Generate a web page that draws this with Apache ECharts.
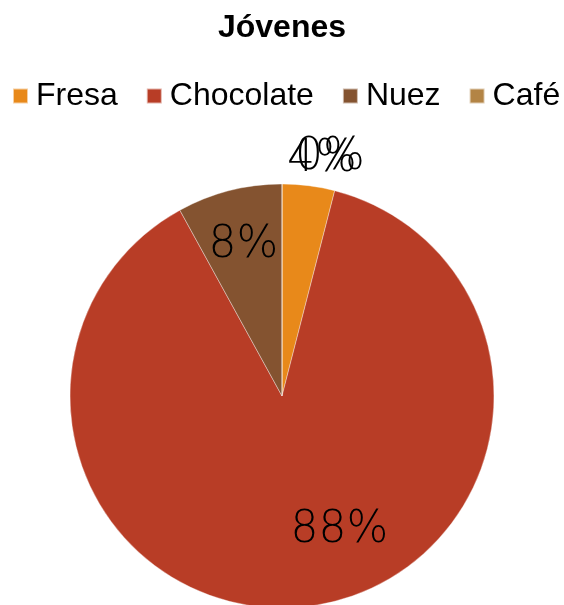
<!DOCTYPE html>
<html>
<head>
<meta charset="utf-8">
<script src="https://cdn.jsdelivr.net/npm/echarts@6/dist/echarts.min.js"></script>
<style>
  html, body { margin: 0; padding: 0; background: #fff; }
  #chart { width: 564px; height: 605px; }
</style>
</head>
<body>
<div id="chart"></div>
<script>
// Flavour preference among young people (percent)
const titleText = 'Jóvenes';
const flavours = ['Fresa', 'Chocolate', 'Nuez', 'Café'];
const shares = [4, 88, 8, 0];
const colours = ['#E8891A', '#B83D26', '#845330', '#B38445'];

// which slices carry their label inside the pie, which just outside the rim
const insideLabel = [false, true, true, false];

const center = [282, 396];
const R = 212;
const labelFont = {
  fontFamily: '"DejaVu Sans", sans-serif',
  fontWeight: 200,
  fontSize: 44,
  color: '#000'
};

function slices(showIf) {
  return flavours.map((name, i) => ({
    name: name,
    value: shares[i],
    label: { show: showIf(i) }
  }));
}

const pct = p => Math.round(p.percent) + '%';

const chart = echarts.init(document.getElementById('chart'), null, { renderer: 'canvas' });
chart.setOption({
  animation: false,
  color: colours,
  title: {
    text: titleText,
    left: 'center',
    top: 7,
    textStyle: { fontFamily: '"Liberation Sans", Arial, sans-serif', fontWeight: 'bold', fontSize: 32, color: '#000' }
  },
  legend: {
    data: flavours,
    left: 12,
    top: 80,
    width: 560,
    padding: 0,
    itemWidth: 15,
    itemHeight: 15,
    itemGap: 28,
    icon: 'rect',
    selectedMode: false,
    textStyle: { fontFamily: '"Liberation Sans", Arial, sans-serif', fontSize: 32, color: '#000', padding: [0, 0, 0, 3] }
  },
  series: [
    {
      // the pie itself
      type: 'pie',
      center: center,
      radius: R,
      startAngle: 90,
      clockwise: true,
      silent: true,
      label: { show: false },
      labelLine: { show: false },
      itemStyle: { borderColor: 'rgba(255,255,255,0.6)', borderWidth: 0.6 },
      data: flavours.map((name, i) => ({ name: name, value: shares[i] }))
    },
    {
      // labels sitting inside the large slices
      type: 'pie',
      center: center,
      radius: [93, R],
      startAngle: 90,
      clockwise: true,
      silent: true,
      avoidLabelOverlap: false,
      itemStyle: { color: 'rgba(0,0,0,0)' },
      label: Object.assign({ position: 'inside', formatter: pct }, labelFont),
      labelLine: { show: false },
      labelLayout: function (p) {
        return p.dataIndex === 1 ? { dx: 38, dy: -20 } : {};
      },
      data: slices(i => insideLabel[i])
    },
    {
      // labels just outside the rim for the thin slices
      type: 'pie',
      center: center,
      radius: [R, R + 46],
      startAngle: 90,
      clockwise: true,
      silent: true,
      avoidLabelOverlap: false,
      itemStyle: { color: 'rgba(0,0,0,0)' },
      label: Object.assign({ position: 'inside', formatter: pct }, labelFont),
      labelLine: { show: false },
      labelLayout: function (p) {
        if (p.dataIndex === 3) return { dx: 48, dy: 0 };
        if (p.dataIndex === 0) return { dx: 10, dy: 0 };
        return {};
      },
      data: slices(i => !insideLabel[i])
    }
  ]
});
</script>
</body>
</html>
